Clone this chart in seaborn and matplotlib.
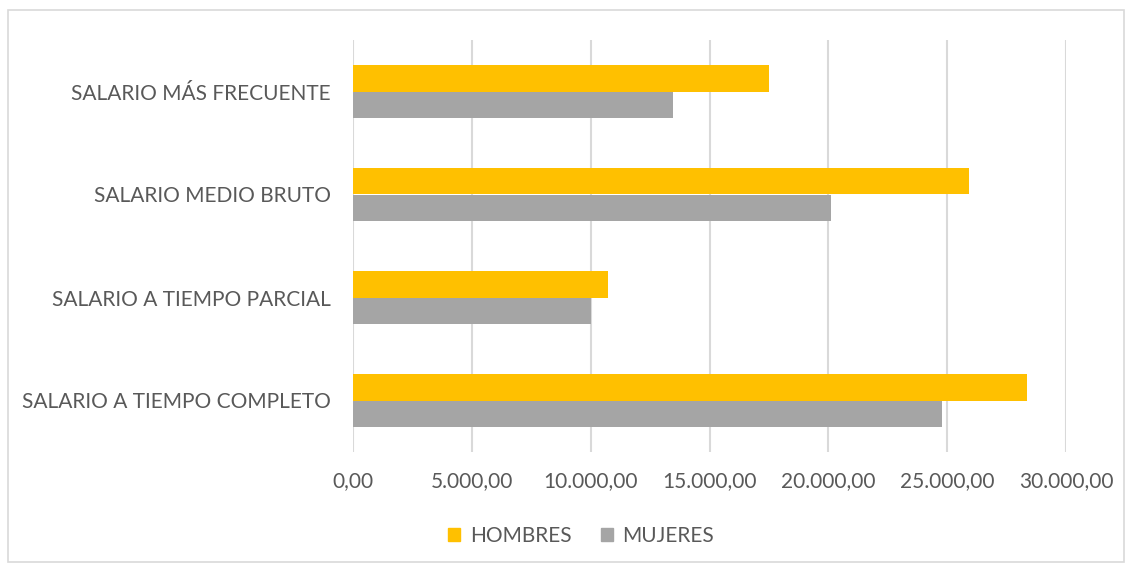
import matplotlib
matplotlib.use("Agg")
import matplotlib.pyplot as plt
import matplotlib.patches as mpatches
import matplotlib.ticker as mticker
import seaborn as sns
import pandas as pd

categories = ["SALARIO MÁS FRECUENTE", "SALARIO MEDIO BRUTO",
              "SALARIO A TIEMPO PARCIAL", "SALARIO A TIEMPO COMPLETO"]
series_names = ["HOMBRES", "MUJERES"]
hombres = [17490, 25930, 10720, 28370]
mujeres = [13470, 20120, 10000, 24790]
x_ticks = [0, 5000, 10000, 15000, 20000, 25000, 30000]

colors = {"HOMBRES": "#FFC000", "MUJERES": "#A5A5A5"}
text_color = "#595959"
grid_color = "#D9D9D9"

df = pd.DataFrame({
    "cat": categories * 2,
    "serie": [series_names[0]] * len(categories) + [series_names[1]] * len(categories),
    "valor": hombres + mujeres,
})

sns.set_theme(style="white")
plt.rcParams["font.family"] = ["Lato", "DejaVu Sans"]

fig = plt.figure(figsize=(11.32, 5.67), dpi=100)
ax = fig.add_axes([353 / 1132, 1 - 452 / 567, (1066 - 353) / 1132, (452 - 40) / 567])

sns.barplot(data=df, y="cat", x="valor", hue="serie", order=categories,
            hue_order=series_names, palette=colors, orient="h",
            width=0.515, ax=ax, legend=False, linewidth=0, saturation=1)

ax.set_xlim(0, 30000)
ax.set_ylim(3.5, -0.5)
ax.set_xticks(x_ticks)

def fmt(v, pos):
    s = f"{v:,.2f}"
    return s.replace(",", "X").replace(".", ",").replace("X", ".")

ax.xaxis.set_major_formatter(mticker.FuncFormatter(fmt))
ax.grid(axis="x", color=grid_color, linewidth=1.5)
ax.set_axisbelow(True)
for s in ax.spines.values():
    s.set_visible(False)
ax.tick_params(axis="both", length=0, labelsize=15, colors=text_color)
ax.tick_params(axis="y", pad=16)
ax.tick_params(axis="x", pad=14)
ax.set_xlabel("")
ax.set_ylabel("")

handles = [mpatches.Patch(color=colors[n], label=n) for n in series_names]
fig.legend(handles=handles, loc="center", bbox_to_anchor=(581 / 1132, 1 - 536 / 567),
           ncol=2, frameon=False, fontsize=15, labelcolor=text_color,
           handlelength=0.6, handleheight=0.6, handletextpad=0.45, columnspacing=1.4)

border = mpatches.Rectangle((8 / 1132, 1 - 562 / 567), (1124 - 8) / 1132, (562 - 10) / 567,
                            transform=fig.transFigure, fill=False,
                            edgecolor=grid_color, linewidth=1.2)
fig.patches.append(border)

fig.savefig("out.png", dpi=100)
